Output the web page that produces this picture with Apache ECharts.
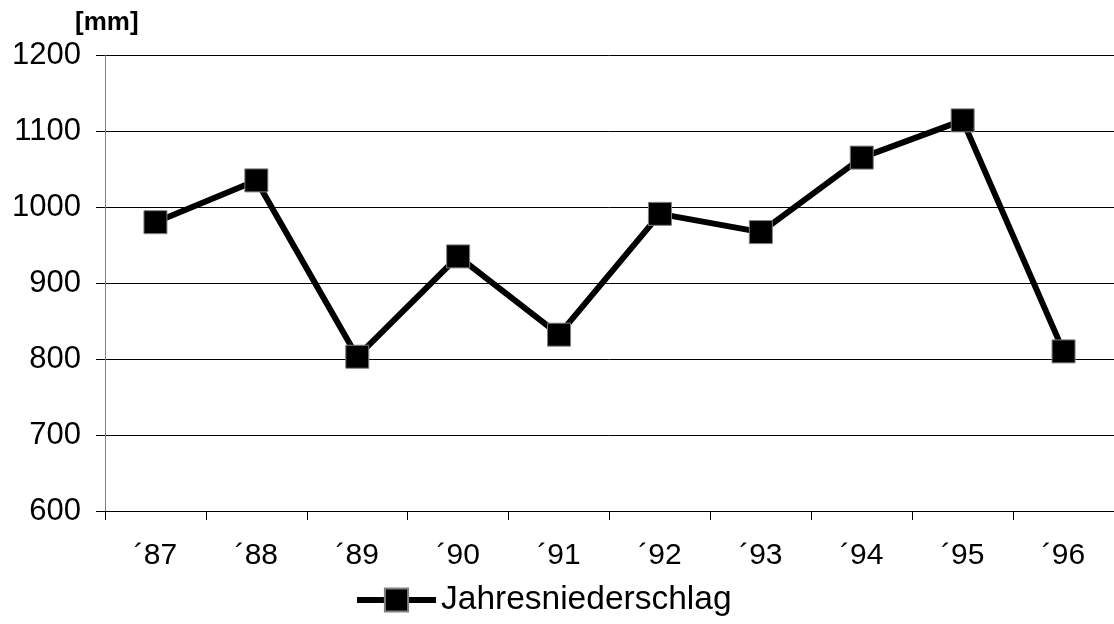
<!DOCTYPE html>
<html>
<head>
<meta charset="utf-8">
<script src="https://cdn.jsdelivr.net/npm/echarts@6/dist/echarts.min.js"></script>
<style>
html,body{margin:0;padding:0;background:#fff;}
#chart{width:1114px;height:624px;}
</style>
</head>
<body>
<div id="chart"></div>
<script>
const categories = ['\u00B487','\u00B488','\u00B489','\u00B490','\u00B491','\u00B492','\u00B493','\u00B494','\u00B495','\u00B496'];
const niederschlag = [980, 1035, 803, 935, 832, 991, 967, 1065, 1114, 810];
const seriesName = 'Jahresniederschlag';
const unitLabel = '[mm]';

const chart = echarts.init(document.getElementById('chart'), null, {renderer:'canvas'});
chart.setOption({
  animation: false,
  backgroundColor: '#fff',
  textStyle: {fontFamily: 'Liberation Sans, Arial, sans-serif'},
  grid: {left: 105, top: 55, bottom: 113, right: -8, containLabel: false},
  graphic: [{
    type: 'text', left: 75, top: 10,
    style: {text: unitLabel, font: 'bold 26px "Liberation Sans", Arial, sans-serif', fill: '#000'}
  }],
  legend: {
    top: 578, left: 349,
    itemWidth: 79, itemHeight: 29, itemGap: 10,
    lineStyle: {width: 6, color: '#000'},
    textStyle: {fontSize: 33.5, color: '#000', fontFamily: 'Liberation Sans, Arial, sans-serif'},
    data: [seriesName]
  },
  xAxis: {
    type: 'category', data: categories, boundaryGap: true,
    axisLine: {lineStyle: {color: '#000', width: 1}},
    axisTick: {show: true, length: 9, lineStyle: {color: '#000'}},
    axisLabel: {fontSize: 30, color: '#000', margin: 30, fontFamily: 'Liberation Sans, Arial, sans-serif'}
  },
  yAxis: {
    type: 'value', min: 600, max: 1200, interval: 100,
    axisLine: {show: true, lineStyle: {color: '#808080', width: 1}},
    axisTick: {show: true, length: 9, lineStyle: {color: '#000'}},
    axisLabel: {fontSize: 31, color: '#000', margin: 24, fontFamily: 'Liberation Sans, Arial, sans-serif',
      formatter: function (v) { return String(v); }},
    splitLine: {show: true, lineStyle: {color: '#000', width: 1}}
  },
  series: [{
    name: seriesName, type: 'line', data: niederschlag,
    symbol: 'rect', symbolSize: 23,
    lineStyle: {color: '#000', width: 6},
    itemStyle: {color: '#000', borderColor: '#808080', borderWidth: 1},
    z: 3
  }]
});
</script>
</body>
</html>
